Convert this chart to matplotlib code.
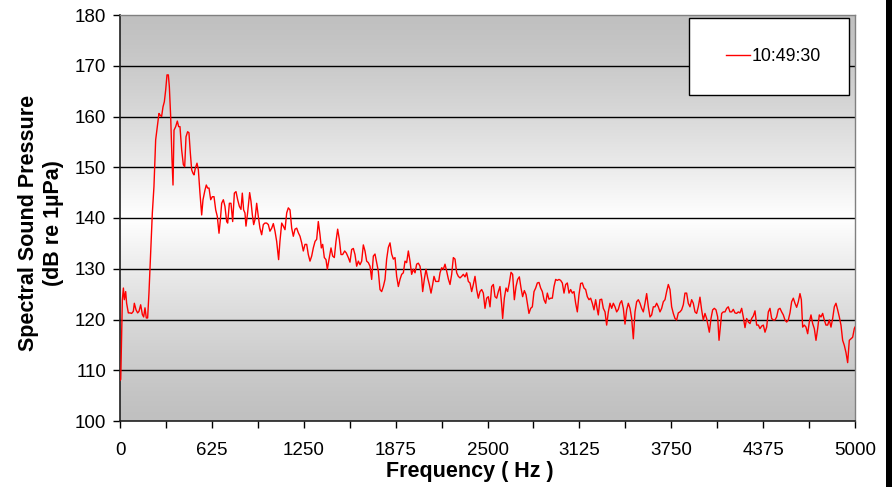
import numpy as np
import matplotlib
matplotlib.use("Agg")
import matplotlib.pyplot as plt
from matplotlib.patches import Rectangle
from matplotlib.lines import Line2D

plt.rcParams['font.family'] = ['Liberation Sans', 'DejaVu Sans']

freq_hz = [
    0, 5, 16, 23, 29.5, 38.6, 45, 56.7, 68, 79, 90.7, 97.5, 109, 120, 129, 140.6, 152, 161, 170, 179,
    188, 197, 208.6, 220, 231, 242.6, 254, 265, 272, 283, 292.5, 301.6, 310.7, 319.7, 328.8, 335.6,
    344.7, 353.8, 360.6, 367.4, 378.7, 390, 399, 408, 419.5, 431, 440, 449, 460, 469, 478.5, 487.5,
    496.6, 503.4, 512.5, 523.8, 533, 544, 555.6, 564.6, 578, 587, 596, 605.5, 617, 628, 639.5, 651,
    662, 673.5, 682.6, 691.6, 703, 714, 725.6, 732.5, 744, 755, 766.5, 778, 789, 800.5, 812, 823,
    832, 841, 850,
    857, 868, 882, 891, 900, 909.3, 918.4, 929.7, 941, 952, 963.7, 975, 986, 997.7, 1009, 1020, 1032,
    1043, 1054.4, 1065.7, 1079, 1088, 1100, 1111, 1122.5, 1134, 1145, 1156.5, 1168, 1179, 1190.5,
    1202, 1213, 1224.5, 1236, 1247, 1258.5, 1270, 1281, 1292.5, 1304, 1315, 1327, 1338, 1349, 1360.5,
    1369.6, 1378.7, 1390, 1401.3, 1410.4, 1421.7, 1435.4, 1446.7, 1458, 1469.4, 1480.7, 1492, 1503.4,
    1514.7, 1528.3, 1539.6, 1553.3, 1564.6, 1576, 1587.3, 1598.6, 1610, 1621.3, 1632.6, 1644, 1655.3,
    1666.6,
    1678, 1689.4, 1700.7, 1712, 1723.4, 1734.7, 1746, 1757.4, 1768.7, 1780, 1791.4, 1802.8, 1814,
    1825.4, 1836.8, 1848, 1859.5, 1870.8, 1882, 1893.5, 1904.8, 1916, 1927.5, 1938.8, 1950, 1961.5,
    1972.8, 1984, 1995.5, 2007, 2018, 2029.5, 2041, 2052, 2059, 2070, 2081.7, 2093, 2104, 2115.7,
    2127, 2136, 2147.5, 2158.8, 2168, 2177, 2188.3, 2199.6, 2211, 2222.3, 2233.6, 2245, 2256.3,
    2267.6, 2279, 2290.3, 2301.6, 2313, 2324.3, 2335.6, 2347, 2358.3, 2369.6, 2381, 2392.3, 2403.6,
    2415, 2426.3, 2437.6, 2449, 2460.3, 2471.6, 2483,
    2494.4, 2505.7, 2517, 2528.4, 2539.7, 2551, 2562.4, 2573.7, 2585, 2596.4, 2603, 2614.5, 2626,
    2637, 2648.5, 2660, 2671, 2682.6, 2694, 2705, 2716.6, 2728, 2739, 2750.6, 2762, 2773, 2782,
    2793.7, 2805, 2816.4, 2827.7, 2839, 2850.4, 2861.7, 2873, 2884.4, 2895.7, 2907, 2918.4, 2929.7,
    2941, 2952.4, 2963.7, 2975, 2986.4, 2997.7, 3009, 3020.4, 3031.7, 3043, 3054.4, 3065.7, 3077,
    3088.4, 3099.7, 3111, 3122.4, 3133.7, 3145, 3156.4, 3167.7, 3179, 3190.4, 3201.7, 3213, 3224.4,
    3235.7, 3247, 3253.8, 3265, 3276.7, 3288, 3299.5,
    3310.6, 3322, 3333.3, 3344.7, 3356, 3367.3, 3378.7, 3390, 3401.4, 3412.7, 3424, 3435.4, 3446.7,
    3458, 3469.4, 3480.7, 3492, 3503.4, 3514.7, 3526, 3537.4, 3548.7, 3560, 3571.4, 3582.7, 3594,
    3605.4, 3616.7, 3628, 3639.4, 3650.7, 3662, 3673.4, 3684.7, 3696, 3707.4, 3718.7, 3730, 3741.4,
    3752.7, 3764, 3775.4, 3786.7, 3798, 3809.4, 3820.7, 3832, 3843.4, 3854.7, 3866, 3877.4, 3888.7,
    3900, 3911.4, 3922.7, 3934, 3945.4, 3956.7, 3968, 3979.4, 3990.7, 4002, 4009, 4020.4, 4031.7,
    4043, 4054.4, 4065.7, 4075,
    4093, 4104, 4115.6, 4127, 4138, 4149.6, 4161, 4172, 4183.6, 4195, 4206, 4217.7, 4229, 4240,
    4251.7, 4263, 4274.4, 4285.7, 4297, 4308.4, 4319.7, 4331, 4342.4, 4353.7, 4365, 4376.4, 4387.7,
    4399, 4410.4, 4421.7, 4433, 4444.4, 4455.7, 4467, 4478.4, 4489.7, 4501, 4512.4, 4523.7, 4535,
    4546.4, 4557.7, 4569, 4580.4, 4591.7, 4603, 4614.4, 4625.7, 4635, 4644, 4655, 4666.6, 4678,
    4689.3, 4700.6, 4712, 4723.3, 4734.6, 4746, 4757.3, 4768.6, 4780, 4791.3, 4802.6, 4814, 4825.3,
    4836.6, 4848, 4859.3, 4870.6, 4882, 4893.3, 4904.6, 4916, 4927.3, 4938.6, 4950, 4961.3, 4972.6,
    4984, 4995.3, 5000,
]

spl_db = [
    108.0, 108.2, 123.9, 126.2, 123.9, 125.5, 123.2, 121.3, 121.3, 121.2, 121.6, 123.2, 121.9, 121.3,
    121.6, 122.9, 121.0, 120.5, 122.3, 120.3, 120.3, 125.2, 133.1, 141.0, 146.2, 155.4, 158.0, 160.6,
    160.3, 160.0, 161.9, 162.9, 165.2, 168.2, 168.2, 165.9, 160.0, 151.4, 146.5, 157.3, 158.0, 159.1,
    158.0, 158.0, 153.4, 150.5, 150.1, 156.0, 157.0, 156.8, 152.8, 149.5, 148.8, 148.5, 149.8, 150.8,
    149.5, 144.9, 140.6, 143.6, 145.5, 146.5, 145.9, 145.9, 143.6, 144.2, 144.2, 141.6, 140.3, 137.0,
    139.6, 142.9, 143.6, 142.3, 139.3, 139.0, 142.9, 142.9, 139.3, 144.9, 145.2, 143.6, 142.3, 141.7,
    144.9, 141.6, 141.0,
    138.4, 141.0, 145.0, 143.3, 140.7, 138.7, 139.7, 142.9, 140.3, 138.0, 136.7, 138.7, 139.0, 139.0,
    138.7, 137.4, 138.0, 138.9, 137.4, 135.4, 131.8, 135.4, 139.0, 138.4, 137.7, 141.0, 142.0, 141.6,
    138.0, 136.4, 137.8, 138.0, 137.1, 136.4, 135.1, 133.5, 134.8, 134.8, 132.8, 131.5, 132.5, 134.1,
    135.4, 135.8, 139.3, 136.7, 134.1, 134.8, 132.2, 131.8, 129.9, 131.8, 134.1, 132.5, 132.2, 135.4,
    137.8, 135.8, 132.8, 132.8, 133.5, 133.1, 132.2, 131.3, 133.8, 134.0, 132.8, 130.5, 131.5, 130.8,
    131.5, 134.7, 133.5,
    131.5, 131.2, 130.5, 127.9, 132.5, 132.9, 131.2, 129.5, 125.9, 125.5, 126.5, 127.9, 131.9, 134.2,
    135.1, 132.9, 131.9, 132.2, 128.5, 126.5, 127.9, 128.9, 129.2, 131.5, 131.2, 133.5, 131.5, 128.9,
    129.9, 129.2, 130.9, 131.1, 130.5, 128.2, 125.5, 127.9, 129.9, 128.2, 126.9, 125.2, 126.9, 128.5,
    127.5, 127.5, 127.5, 129.2, 130.2, 129.9, 130.9, 129.5, 128.0, 126.9, 128.9, 132.2, 131.9, 129.2,
    128.5, 128.2, 128.5, 128.9, 128.4, 129.2, 127.5, 127.2, 125.5, 126.9, 128.5, 125.9, 124.2, 125.5,
    125.9, 125.2, 122.2,
    124.2, 124.5, 122.5, 126.5, 126.9, 124.5, 124.2, 125.5, 126.5, 122.9, 120.2, 124.2, 126.2, 125.5,
    127.2, 129.3, 128.9, 123.9, 126.5, 127.9, 128.4, 126.2, 124.5, 125.7, 124.9, 122.9, 121.2, 122.2,
    122.5, 125.5, 126.2, 127.2, 127.3, 126.2, 125.5, 123.9, 123.2, 125.2, 124.0, 124.2, 124.2, 126.5,
    127.9, 127.7, 127.9, 127.7, 127.2, 125.2, 126.9, 127.2, 125.2, 125.9, 125.2, 125.5, 123.2, 121.5,
    124.9, 127.1, 127.2, 126.2, 125.9, 124.5, 123.9, 124.2, 123.2, 121.9, 123.9, 121.9, 120.9, 123.9,
    124.0, 122.2, 121.5,
    118.9, 121.5, 123.2, 122.2, 123.2, 122.5, 121.5, 122.0, 123.2, 123.7, 122.2, 119.1, 121.9, 123.2,
    122.2, 120.2, 116.2, 121.5, 123.5, 123.9, 123.2, 122.2, 121.5, 123.2, 125.1, 122.5, 120.5, 120.9,
    122.5, 122.5, 123.2, 122.5, 121.5, 122.2, 123.5, 123.9, 125.5, 126.9, 125.9, 122.5, 121.2, 120.2,
    119.9, 121.3, 121.5, 121.9, 122.9, 125.2, 125.2, 123.2, 122.5, 123.9, 123.2, 121.5, 121.2, 122.5,
    124.4, 121.9, 119.9, 121.2, 120.2, 118.5, 117.5, 120.2, 121.9, 122.2, 121.9, 120.5, 115.9,
    121.2, 121.5, 121.5, 122.2, 122.5, 121.5, 121.5, 122.0, 121.3, 121.2, 121.5, 121.3, 122.2, 120.5,
    118.4, 120.2, 119.5, 119.2, 120.2, 120.7, 121.7, 118.9, 118.9, 118.2, 118.7, 118.9, 117.5, 118.5,
    121.5, 122.2, 120.2, 119.9, 119.9, 120.5, 122.0, 122.2, 121.5, 120.9, 119.9, 119.5, 119.9, 121.3,
    123.5, 124.2, 123.2, 122.4, 123.5, 125.1, 123.9, 118.5, 118.9, 118.5, 117.2, 119.5, 120.9, 119.2,
    118.2, 115.9, 118.2, 120.9, 120.5, 121.2, 119.9, 118.9, 118.9, 119.9, 118.5, 120.2, 122.5, 123.2,
    121.9, 120.5, 118.9, 115.9, 114.9, 113.5, 111.5, 115.9, 116.2, 116.5, 118.2, 118.5,
]

y_ticks = [100, 110, 120, 130, 140, 150, 160, 170, 180]
x_tick_labels = ["0", "625", "1250", "1875", "2500", "3125", "3750", "4375", "5000"]
series_name = "10:49:30"

W, H = 892, 487
fig = plt.figure(figsize=(W / 100, H / 100), dpi=100)
fig.patch.set_facecolor("white")
ax = fig.add_axes([120 / W, 1 - 421 / H, 735 / W, 406 / H])

# gradient background (gray - white - gray)
t = np.linspace(0, 1, 256)
g = 1 - np.abs(t - 0.5) * 2
vals = 192 + (255 - 192) * g ** 1.3
img = np.repeat((vals / 255.0)[:, None], 2, axis=1)
ax.imshow(np.dstack([img, img, img]), extent=[0, 1, 0, 1], transform=ax.transAxes,
          aspect="auto", origin="lower", zorder=0, interpolation="bilinear")

ax.set_xlim(0, 5000)
ax.set_ylim(100, 180)
for yv in y_ticks[1:-1]:
    ax.axhline(yv, color="black", lw=1.0, zorder=1)

ax.plot(freq_hz, spl_db, color="#ff0000", lw=1.0, zorder=3)

ax.set_yticks(y_ticks)
xt = np.arange(0, 5000.1, 312.5)
ax.set_xticks(xt)
labels = []
for i, v in enumerate(xt):
    labels.append(x_tick_labels[i // 2] if i % 2 == 0 else "")
ax.set_xticklabels(labels)
ax.tick_params(axis="both", direction="out", length=5, width=1, colors="black",
               labelsize=13.5)
ax.tick_params(axis="x", pad=10)
ax.tick_params(axis="y", pad=5)

for s in ["left", "bottom"]:
    ax.spines[s].set_color("#202020")
    ax.spines[s].set_linewidth(1.2)
for s in ["top", "right"]:
    ax.spines[s].set_color("#808080")
    ax.spines[s].set_linewidth(1.0)

ax.set_xlabel("Frequency ( Hz )", fontsize=15.5, fontweight="bold", labelpad=2)
ax.xaxis.set_label_coords((470 - 120) / 735, -0.124)
ax.xaxis.label.set_va("center")
ax.set_ylabel("Spectral Sound Pressure\n(dB re 1µPa)", fontsize=15.5, fontweight="bold",
              linespacing=1.25)
ax.yaxis.set_label_coords((41 - 120) / 735, (421 - 223) / 406)
ax.yaxis.label.set_va("center")

# legend box
x0 = (689 - 120) / 735
y0 = (421 - 95) / 406
w = (849 - 689) / 735
h = (95 - 18) / 406
ax.add_patch(Rectangle((x0, y0), w, h, transform=ax.transAxes, facecolor="white",
                       edgecolor="black", lw=1.0, zorder=5))
handle = Line2D([], [], color="#ff0000", lw=1.0)
leg = ax.legend([handle], [series_name], loc="center",
                bbox_to_anchor=(x0 + w / 2 + 0.006, y0 + h / 2),
                bbox_transform=ax.transAxes, frameon=False, fontsize=12.8, handlelength=1.35,
                handletextpad=0.1)
leg.set_zorder(6)

# black strip at right edge
fig.patches.append(Rectangle((886 / W, 0), 6 / W, 1, transform=fig.transFigure,
                             facecolor="black", edgecolor="none"))

fig.savefig("out.png", dpi=100)
